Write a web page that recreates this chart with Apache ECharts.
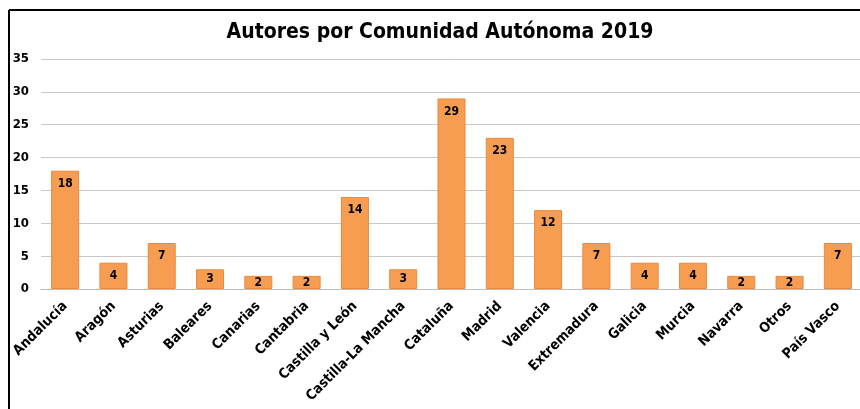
<!DOCTYPE html>
<html>
<head>
<meta charset="utf-8">
<script src="https://cdn.jsdelivr.net/npm/echarts@6/dist/echarts.min.js"></script>
<style>
  html, body { margin: 0; padding: 0; background: #fff; overflow: hidden; }
  #chart { width: 866px; height: 409px; }
</style>
</head>
<body>
<div id="chart"></div>
<script>
const categories = ['Andalucía', 'Aragón', 'Asturias', 'Baleares', 'Canarias', 'Cantabria', 'Castilla y León',
  'Castilla-La Mancha', 'Cataluña', 'Madrid', 'Valencia', 'Extremadura', 'Galicia', 'Murcia', 'Navarra', 'Otros', 'País Vasco'];
const autores = [18, 4, 7, 3, 2, 2, 14, 3, 29, 23, 12, 7, 4, 4, 2, 2, 7];
const yTicks = [0, 5, 10, 15, 20, 25, 30, 35];

const font = '"Liberation Sans Narrow", "DejaVu Sans Condensed", sans-serif';

// short bars get their label centred in the bar
const barData = autores.map(v => v < 4 ? { value: v, label: { position: 'inside' } } : v);

const chart = echarts.init(document.getElementById('chart'));
chart.setOption({
  animation: false,
  title: {
    text: 'Autores por Comunidad Autónoma 2019',
    left: 435,
    textAlign: 'center',
    top: 17,
    textStyle: { fontFamily: font, fontWeight: 'bold', fontSize: 21, color: '#000' }
  },
  graphic: [
    { type: 'line', shape: { x1: 9, y1: 10, x2: 870, y2: 10 }, style: { stroke: '#000', lineWidth: 2 } },
    { type: 'line', shape: { x1: 9, y1: 10, x2: 9, y2: 420 }, style: { stroke: '#000', lineWidth: 2 } }
  ],
  grid: { left: 41, right: 4, top: 59, bottom: 120 },
  xAxis: {
    type: 'category',
    data: categories,
    axisTick: { show: false },
    axisLine: { lineStyle: { color: '#bdbdbd', width: 1 } },
    axisLabel: {
      rotate: 45, interval: 0, margin: 15,
      fontFamily: font, fontWeight: 'bold', fontSize: 14, color: '#000'
    }
  },
  yAxis: {
    type: 'value',
    min: yTicks[0],
    max: yTicks[yTicks.length - 1],
    interval: 5,
    axisLine: { show: false },
    axisTick: { show: false },
    splitLine: { lineStyle: { color: '#c8c8c8', width: 1 } },
    axisLabel: { fontFamily: font, fontWeight: 'bold', fontSize: 13, color: '#000', margin: 12 }
  },
  series: [{
    type: 'bar',
    data: barData,
    barWidth: '58%',
    itemStyle: { color: '#F79D52', borderColor: '#E8893F', borderWidth: 1 },
    label: {
      show: true, position: 'insideTop', distance: 7,
      fontFamily: font, fontWeight: 'bold', fontSize: 12, color: '#000'
    }
  }]
});
</script>
</body>
</html>
